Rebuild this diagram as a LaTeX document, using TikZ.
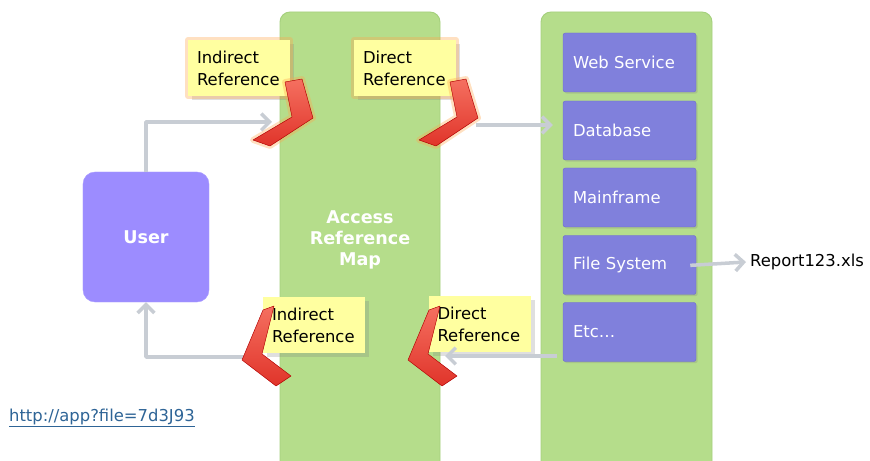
\documentclass[tikz,border=0pt]{standalone}
\usepackage{fontspec}
\setmainfont{DejaVu Sans}
\usetikzlibrary{arrows.meta,shadows}

\definecolor{mapgreen}{RGB}{181,221,139}
\definecolor{mapgreenline}{RGB}{165,208,125}
\definecolor{svcblue}{RGB}{128,128,220}
\definecolor{svcline}{RGB}{112,112,205}
\definecolor{userpurple}{RGB}{156,140,255}
\definecolor{notey}{RGB}{255,255,160}
\definecolor{flowgray}{RGB}{200,205,212}
\definecolor{chevred}{RGB}{224,52,42}
\definecolor{chevlight}{RGB}{245,112,96}
\definecolor{linkblue}{RGB}{46,100,150}

\begin{document}
\begin{tikzpicture}[
        x=0.03cm, y=-0.03cm,
        font=\fontsize{14}{18.7}\selectfont,
        column/.style={
            draw=mapgreenline, fill=mapgreen,
            line width=0.8pt, rounded corners=0.3cm
        },
        svc/.style={
            rectangle, draw=svcline, fill=svcblue,
            text=white, minimum width=3.99cm,
            minimum height=1.77cm, text width=3.39cm,
            inner xsep=0.3cm, align=left, rounded corners=2pt,
            drop shadow={opacity=0.25, shadow xshift=0.05cm, shadow yshift=-0.05cm}
        },
        userbox/.style={
            rectangle, draw=userpurple!85!white, fill=userpurple,
            text=white, font=\bfseries\fontsize{15}{18}\selectfont,
            minimum width=3.78cm, minimum height=3.9cm,
            rounded corners=0.36cm
        },
        note/.style={
            rectangle, fill=notey, minimum width=3.06cm,
            minimum height=1.68cm, text width=2.52cm,
            inner xsep=0.27cm, align=left,
            drop shadow={opacity=0.25, shadow xshift=0.12cm, shadow yshift=-0.12cm}
        },
        glow/.style={preaction={draw=orange!70, line width=5pt, opacity=0.35, line join=round}},
        chev/.style={top color=chevlight, bottom color=chevred, draw=red!70!black, line width=0.4pt, line join=round},
        flow/.style={draw=flowgray, line width=3pt, line join=round,
            -{Straight Barb[length=0.25cm, width=0.5cm]}}
    ]

    \clip (0,0) rectangle (870,461);

    % Green columns
    \draw[column] (280,12) rectangle (440,480);
    \draw[column] (541,12) rectangle (712,480);

    % Services on right
    \node[svc] (ws)  at (629.5,62.5)  {Web Service};
    \node[svc] (db)  at (629.5,130.5) {Database};
    \node[svc] (mf)  at (629.5,197.5) {Mainframe};
    \node[svc] (fs)  at (629.5,265)   {File System};
    \node[svc] (etc) at (629.5,332)   {Etc\ldots};

    % User and map
    \node[userbox] (user) at (146,237) {User};
    \node[text=white, font=\bfseries\fontsize{15}{17.9}\selectfont, align=center]
        (map) at (360,240) {Access\\Reference\\Map};

    % Sticky notes
    \node[note, glow] (ind1) at (239,68)    {Indirect\\Reference};
    \node[note, glow] (dir1) at (405,68)    {Direct\\Reference};
    \node[note]       (ind2) at (314,325)   {Indirect\\Reference};
    \node[note]       (dir2) at (479.5,324) {Direct\\Reference};

    % Ends of the flows at the chevrons
    \coordinate (inA)   at (272,122);
    \coordinate (outA)  at (476,125);
    \coordinate (backA) at (445,356);
    \coordinate (backB) at (252,357);

    % Report file
    \node[anchor=west] (report) at (746,262) {Report123.xls};

    % Flows
    \draw[flow] (user.north) |- (inA);
    \draw[flow, shorten >=0.3cm] (outA) -- (outA -| db.west);
    \draw[flow, shorten <=-0.18cm] (fs.east) -- (report.west);
    \draw[flow, shorten <=0.18cm] (etc.west |- backA) -- (backA);
    \draw[flow] (backB) -| (user.south);

    % Chevrons
    \draw[chev, glow] (285,82) -- (302,79) -- (313,118) -- (270,146) -- (253,140) -- (292,117) -- cycle;
    \draw[chev, glow] (450,82) -- (466,79) -- (478,118) -- (436,146) -- (419,140) -- (457,117) -- cycle;
    \draw[chev] (263,310) -- (274,306) -- (262,354) -- (291,376) -- (276,386) -- (242,360) -- cycle;
    \draw[chev] (429,310) -- (440,306) -- (428,354) -- (457,376) -- (442,386) -- (408,360) -- cycle;

    % Link
    \node[anchor=west, text=linkblue] (url) at (5,418) {\underline{http://app?file=7d3J93}};

\end{tikzpicture}
\end{document}
